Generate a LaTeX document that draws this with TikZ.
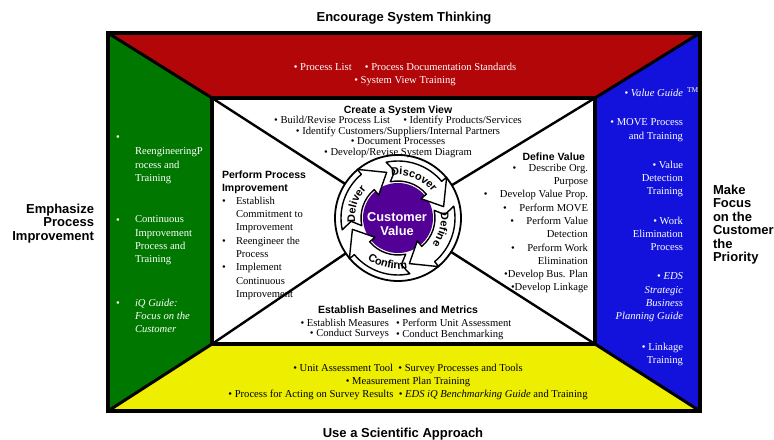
\documentclass[tikz,border=0pt]{standalone}
\usepackage{fontspec}
\setmainfont{Liberation Serif}
\setsansfont{Liberation Sans}
\usetikzlibrary{decorations.text}
\definecolor{bandred}{RGB}{178,6,8}
\definecolor{bandgreen}{RGB}{0,120,0}
\definecolor{bandblue}{RGB}{18,18,220}
\definecolor{bandyellow}{RGB}{238,238,0}
\definecolor{cvpurple}{RGB}{82,0,150}
\newcommand\cvlab{\sffamily\bfseries\fontsize{11bp}{13bp}\selectfont}
\begin{document}
\begin{tikzpicture}[x=1bp,y=-1bp,
  every node/.style={inner sep=0pt, outer sep=0pt},
  hdr/.style={font=\sffamily\bfseries\fontsize{13bp}{13.5bp}\selectfont},
  sub/.style={font=\sffamily\bfseries\fontsize{10.5bp}{13bp}\selectfont},
  txt/.style={font=\fontsize{10.6bp}{13.3bp}\selectfont},
  ittxt/.style={font=\fontsize{10.6bp}{13.3bp}\selectfont\itshape},
  tight/.style={font=\fontsize{10.6bp}{10.7bp}\selectfont},
  onband/.style={text=white},
  cvarrow/.style={fill=white, draw=black, line width=1.4bp, line join=round},
]
\useasboundingbox (0,0) rectangle (774,440);

% frame coordinates
\coordinate (otl) at (108,33);
\coordinate (otr) at (700,33);
\coordinate (obr) at (700,411);
\coordinate (obl) at (108,411);
\coordinate (itl) at (212,98);
\coordinate (itr) at (595,98);
\coordinate (ibr) at (595,344);
\coordinate (ibl) at (212,344);
\coordinate (cc) at (398,218);

% bands
\fill[bandred] (otl) -- (otr) -- (itr) -- (itl) -- cycle;
\fill[bandblue] (otr) -- (obr) -- (ibr) -- (itr) -- cycle;
\fill[bandyellow] (obl) -- (obr) -- (ibr) -- (ibl) -- cycle;
\fill[bandgreen] (otl) -- (itl) -- (ibl) -- (obl) -- cycle;
\fill[white] (itl) rectangle (ibr);

% inner diagonals
\draw[line width=2.4bp] (itl) -- (cc);
\draw[line width=2.4bp] (itr) -- (cc);
\draw[line width=2.4bp] (ibl) -- (cc);
\draw[line width=2.4bp] (ibr) -- (cc);

% band borders
\draw[line width=3bp] (otl) -- (itl);
\draw[line width=3bp] (otr) -- (itr);
\draw[line width=3bp] (obl) -- (ibl);
\draw[line width=3bp] (obr) -- (ibr);
\draw[line width=3.5bp] (itl) rectangle (ibr);
\draw[line width=3.5bp] (otl) rectangle (obr);

% ring and centre
\draw[line width=1.8bp, fill=white] (cc) circle[radius=63];
\fill[cvpurple] (cc) circle[radius=35];

\begin{scope}[shift={(398,218)}, y=1bp]
  \foreach \t in {102,12,-78,-168}{
    \pgfmathsetmacro\aB{\t-62}
    \pgfmathsetmacro\aE{\t-88}
    \pgfmathsetmacro\aN{\t-8}
    \draw[cvarrow] (\t:57) arc[start angle=\t, end angle=\aB, radius=57]
      -- (\aB:63.5) -- (\aE:47) -- (\aB:30) -- (\aB:37)
      arc[start angle=\aB, end angle=\t, radius=37] -- (\aN:47) -- cycle;
  }
  \path[decorate, decoration={text along path, text={|\cvlab|Discover}, text align=center}]
    (104:43) arc[start angle=104, end angle=32, radius=43];
  \path[decorate, decoration={text along path, text={|\cvlab|Define}, text align=center}]
    (17:43) arc[start angle=17, end angle=-47, radius=43];
  \path[decorate, decoration={text along path, text={|\cvlab|Confirm}, text align=center}]
    (-145:51) arc[start angle=-145, end angle=-61, radius=51];
  \path[decorate, decoration={text along path, text={|\cvlab|Deliver}, text align=center}]
    (198:43) arc[start angle=198, end angle=126, radius=43];
\end{scope}

\node[font=\sffamily\bfseries\fontsize{12.8bp}{13.5bp}\selectfont, text=white, align=center] (cv) at (397,224) {Customer\\Value};

% outer titles
\node[hdr, anchor=base] (ttop) at (404,21.7) {Encourage System Thinking};
\node[hdr, anchor=base] (tbot) at (403,437.7) {Use a Scientific Approach};
\node[hdr, align=right, anchor=north east] (tlft) at (94,203.8) {Emphasize\\Process\\Improvement};
\node[hdr, align=left, anchor=north west] (trgt) at (713,184.8) {Make\\Focus\\on the\\Customer\\the\\Priority};

% red band
\node[txt, onband, align=center, anchor=north] (rtxt) at (405,62.9) {• Process List \quad • Process Documentation Standards\\• System View Training};

% green band
\node[txt, onband, anchor=base] (gb1) at (118,140.2) {•};
\node[txt, onband, align=left, anchor=north west] (g1) at (135,147.9) {ReengineeringP\\rocess and\\Training};
\node[txt, onband, anchor=base] (gb2) at (118,223.2) {•};
\node[txt, onband, align=left, anchor=north west] (g2) at (135,215.9) {Continuous\\Improvement\\Process and\\Training};
\node[txt, onband, anchor=base] (gb3) at (118,306.2) {•};
\node[ittxt, onband, align=left, anchor=north west] (g3) at (135,298.9) {iQ Guide:\\Focus on the\\Customer};

% blue band
\node[txt, onband, anchor=base east] (b1) at (683,96.2) {• \textit{Value Guide}\rlap{\hspace{4bp}\textsuperscript{TM}}};
\node[txt, onband, align=right, anchor=north east] (b2) at (683,118.9) {• MOVE Process\\and Training};
\node[txt, onband, align=right, anchor=north east] (b3) at (683,160.9) {• Value\\Detection\\Training};
\node[txt, onband, align=right, anchor=north east] (b4) at (683,216.9) {• Work\\Elimination\\Process};
\node[txt, onband, align=right, anchor=north east] (b5) at (683,272.9) {• \textit{EDS}\\\textit{Strategic}\\\textit{Business}\\\textit{Planning Guide}};
\node[txt, onband, align=right, anchor=north east] (b6) at (683,342.9) {• Linkage\\Training};

% yellow band
\node[txt, align=center, anchor=north] (ytxt) at (408,363.9) {• Unit Assessment Tool \ • Survey Processes and Tools\\• Measurement Plan Training\\• Process for Acting on Survey Results \ • \textit{EDS iQ Benchmarking Guide} and Training};

% create a system view
\node[sub, anchor=base] (csv) at (398,113.8) {Create a System View};
\node[tight, align=center, anchor=north] (csvl) at (398,115.9) {• Build/Revise Process List \quad • Identify Products/Services\\• Identify Customers/Suppliers/Internal Partners\\• Document Processes\\• Develop/Revise System Diagram};

% perform process improvement
\node[sub, align=left, anchor=north west] (ppi) at (222,171.2) {Perform Process\\Improvement};
\node[txt, anchor=base] (pb1) at (224,204.2) {•};
\node[txt, anchor=base] (pb2) at (224,244.2) {•};
\node[txt, anchor=base] (pb3) at (224,270.8) {•};
\node[txt, align=left, anchor=north west] (ppl) at (236,196.9) {Establish\\Commitment to\\Improvement\\Reengineer the\\Process\\Implement\\Continuous\\Improvement};

% define value
\node[sub, anchor=base east] (dv) at (585,160.8) {Define Value};
\node[txt, align=right, anchor=north east] (dvl) at (588,163.9) {•\hspace{12.5bp}Describe Org.\\Purpose\\•\hspace{12.5bp}Develop Value Prop.\\•\hspace{12.5bp}Perform MOVE\\•\hspace{12.5bp}Perform Value\\Detection\\•\hspace{12.5bp}Perform Work\\Elimination\\•Develop Bus. Plan\\•Develop Linkage};

% establish baselines
\node[sub, anchor=base] (ebm) at (398,313.8) {Establish Baselines and Metrics};
\node[tight, align=right, anchor=north east] (ebl) at (389,318.9) {• Establish Measures\\• Conduct Surveys};
\node[tight, align=left, anchor=north west] (ebr) at (396,318.9) {• Perform Unit Assessment\\• Conduct Benchmarking};
\end{tikzpicture}
\end{document}
